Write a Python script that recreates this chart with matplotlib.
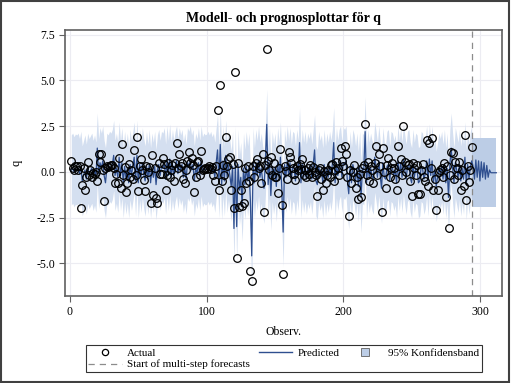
import matplotlib
matplotlib.use('Agg')
import matplotlib.pyplot as plt
import numpy as np
from matplotlib.lines import Line2D
from matplotlib.patches import Rectangle

plt.rcParams['font.family'] = ['Liberation Serif', 'DejaVu Serif']

########################################
# data
actual = [
    0.6, 0.2, 0.1, 0.3, 0.3, 0.1, 0.3, -2.0, -0.7, 0.2,
    -1.0, -0.3, 0.55, -0.2, 0.1, -0.3, -0.05, -0.1, 0.0, -0.5,
    0.95, 0.55, 0.95, 0.1, -1.6, 0.2, 0.3, 0.25, 0.3, 0.35,
    0.35, 0.2, -0.6, -0.1, -0.6, 0.75, -0.9, 1.5, -0.2, 0.25,
    -1.1, -0.6, 0.45, -0.3, 0.1, -0.4, 1.2, -0.2, 1.9, -1.05,
    0.3, 0.7, 0.1, -0.45, -1.05, 0.3, 0.0, 0.25, -1.7, 0.9,
    -1.25, 0.2, -1.45, -1.7, 0.5, -0.1, -0.1, 0.75, 0.45, -1.0,
    -0.2, 0.5, -0.3, 0.1, 0.4, -0.5, 0.5, 1.6, 0.2, 1.0,
    0.3, 0.5, -0.4, -0.6, 0.1, 0.6, 1.1, 0.5, 0.75, 0.4,
    -1.1, -0.3, 0.55, 0.6, -0.2, 1.15, 0.1, 0.15, 0.2, 0.15,
    0.2, 0.3, 0.15, 0.25, -0.2, -0.5, 0.3, 3.4, -1.0, 4.75,
    -0.5, 0.4, -0.2, 1.9, 0.3, 0.7, 0.8, -1.0, 0.45, -2.0,
    5.45, -4.7, 0.5, -1.9, -1.0, -1.85, -1.7, 0.2, -0.6, 0.3,
    -0.5, -5.45, -6.0, 0.3, -0.3, 0.5, 0.7, 0.2, 0.3, -0.6,
    1.0, -2.2, 0.4, 6.75, 0.6, 0.1, 0.8, -0.2, 0.5, -0.3,
    -0.3, -1.15, 0.2, 1.25, -1.8, -5.6, 0.3, 0.05, -0.4, 1.1,
    0.8, 0.5, 0.2, -0.1, -0.45, 0.3, 0.1, 0.45, 0.15, 0.7,
    -0.2, 0.1, -0.3, 0.2, -0.1, 0.35, -0.3, 0.25, 0.0, -0.2,
    -1.3, 0.1, 0.2, -0.4, -1.0, 0.05, -0.6, -0.2, 0.1, -0.3,
    0.4, 0.45, -0.5, 0.1, 0.55, 0.2, -0.2, 1.3, 0.6, 0.3,
    1.4, 0.95, -0.3, -2.4, 0.1, -0.6, 0.0, 0.35, -0.9, -0.3,
    -1.5, -0.1, -1.4, 0.2, 0.35, 2.6, -0.2, 0.55, -0.5, 0.3,
    0.1, -0.6, 0.5, 1.4, -0.2, 1.0, 0.3, -2.2, 1.3, 0.0,
    -0.9, 0.4, 0.75, -0.3, 0.2, 0.5, 0.2, -0.4, -1.0, 1.4,
    0.3, 0.7, -0.2, 2.5, 0.55, 0.0, 0.35, 0.45, -0.5, -1.3,
    0.5, 0.2, -0.2, 0.35, -1.2, -1.2, 0.1, 0.45, -0.3, -0.5,
    1.75, -0.8, 1.6, 0.2, 1.85, -1.0, -0.4, -2.1, -1.0, 0.0,
    0.1, 0.2, -0.3, 0.5, -1.4, 0.3, -3.1, -0.2, 1.1, 1.05,
    -0.4, 0.55, 0.2, -0.2, 0.55, -1.0, 0.1, -0.8, 2.0, -1.55,
    0.3, -0.55, 0.1, 1.35,
]

predicted = [
    0.1, 0.2, 0.0, 0.15, 0.1, 0.2, -0.1, 0.3, -0.5, -0.2,
    0.1, -0.4, 0.2, -0.1, 0.05, 0.2, -0.2, 0.1, -0.3, 1.3,
    -0.1, 0.5, 0.2, 0.6, -0.2, -0.6, 0.2, 0.1, 0.3, 0.2,
    0.4, 0.9, -0.2, 0.2, -0.3, 0.8, -0.2, 0.5, -0.6, 0.3,
    -0.4, 0.2, -0.6, 0.4, -0.2, 0.3, 0.8, -0.5, 0.9, -0.6,
    0.4, -0.3, 0.5, -0.1, -0.5, 0.3, -0.4, 0.4, -0.6, 0.2,
    -0.3, 0.3, -0.7, 0.1, 0.4, -0.2, 0.3, 0.2, 0.5, -0.4,
    0.6, -0.2, 0.7, -0.3, 0.4, -0.2, 0.3, 0.6, -0.1, 0.5,
    0.1, 0.4, -0.3, 0.2, -0.4, 0.5, 0.3, 0.6, 0.1, 0.4,
    -0.5, 0.2, -0.1, 0.5, -0.2, 0.6, 0.0, 0.2, 0.1, 0.15,
    0.3, 0.1, 0.3, 0.0, 0.2, -0.3, 0.5, 1.2, -0.6, 1.5,
    -0.7, 0.6, -0.5, 0.9, -0.3, 0.4, -0.2, -0.8, 0.3, -3.1,
    0.6, -3.0, 0.4, -1.0, -0.3, -1.9, 0.2, -0.7, 0.3, -0.5,
    0.2, -1.5, -4.6, 0.5, -0.6, 0.4, -0.2, 0.6, -0.3, 0.2,
    -0.5, -0.9, 0.6, 2.6, -0.7, 0.5, -1.3, 0.3, -0.4, 0.2,
    -0.8, 0.5, -0.3, 0.8, -0.9, -3.3, 0.4, -0.3, 0.6, -0.2,
    0.5, -0.4, 0.3, 0.2, -0.5, 0.4, -0.2, 1.6, -0.6, 0.4,
    -0.3, 0.3, -0.4, 0.2, -0.1, 0.3, -0.4, 0.4, 1.2, -0.5,
    -0.7, 0.3, -0.2, 0.1, -0.6, 0.4, -0.5, 0.2, -0.3, 0.3,
    -0.2, 0.4, 1.6, -0.6, 0.5, -0.2, 0.4, 0.6, -0.3, 0.5,
    0.4, 0.6, -0.5, -1.2, 0.3, -0.6, 0.4, 0.1, -0.5, 0.2,
    -0.8, 0.3, -1.4, 0.2, 0.1, 2.2, -0.6, 0.4, -0.3, 0.2,
    -0.2, -0.4, 0.8, 0.3, -0.3, 0.6, -0.2, -0.9, 0.5, -0.3,
    -0.4, 0.3, 0.4, -0.5, 0.3, 0.2, -0.2, 0.1, -0.6, 0.6,
    -0.2, 0.5, -0.3, 0.7, 0.1, -0.4, 0.3, 0.4, -0.3, -0.6,
    0.4, -0.3, 0.2, 0.1, -0.6, -0.5, 0.3, 0.2, -0.4, -0.1,
    0.6, -0.5, 0.7, -0.2, 0.6, -0.6, 0.1, -0.8, -0.3, 0.2,
    -0.1, 0.3, -0.4, 0.4, -0.6, 0.2, -1.4, 0.4, 1.3, 0.2,
    -0.6, 0.5, 0.1, -0.3, 0.4, -0.5, 0.2, -0.4, 0.8, -0.7,
    0.4, -0.4, 0.3, 0.6,
    # multi-step forecasts
    0.3, -0.4, 0.65, -0.3, 0.6, -0.5, 0.55, -0.3, 0.5, -0.4,
    0.35, -0.3, 0.1, -0.05, -0.05, -0.05, -0.05, -0.05,
]

band_halfwidth = 1.92          # 95% band around the one-step predictions
fc_upper = [1.85] * 18         # band of the multi-step forecasts
fc_lower = [-1.95] * 18
forecast_start = 294.5

########################################
# figure / axis setup
n_act = len(actual)
obs_act = np.arange(1, n_act + 1)
obs_pred = np.arange(1, len(predicted) + 1)
pred = np.array(predicted)

fig = plt.figure(figsize=(5.11, 3.83), dpi=100)
ax = fig.add_axes([0.127, 0.227, 0.855, 0.695])

band_col = '#d4dff0'
fc_band_col = '#bccde6'
line_col = '#2f4f8f'

########################################
# plots
ax.fill_between(obs_pred[:n_act], pred[:n_act] - band_halfwidth,
                pred[:n_act] + band_halfwidth, color=band_col, lw=0, zorder=1)
ax.fill_between(obs_pred[n_act - 1:], [fc_lower[0]] + fc_lower,
                [fc_upper[0]] + fc_upper, color=fc_band_col, lw=0, zorder=1)
ax.plot(obs_pred, pred, color=line_col, lw=0.9, zorder=3)
ax.plot(obs_act, actual, 'o', mfc='none', mec='black', ms=5.5, mew=0.9, zorder=4)
ax.axvline(forecast_start, color='#8c8c8c', ls=(0, (5, 4)), lw=0.9, zorder=2)

########################################
# axis settings
ax.set_xlim(-3.7, 316)
ax.set_ylim(-6.8, 7.77)
ax.set_xticks([0, 100, 200, 300])
ax.set_yticks([-5.0, -2.5, 0.0, 2.5, 5.0, 7.5])
ax.set_yticklabels(['-5.0', '-2.5', '0.0', '2.5', '5.0', '7.5'])
ax.grid(True, color='#ececf2', lw=0.8, zorder=0)
ax.set_axisbelow(True)
for sp in ax.spines.values():
    sp.set_color('#606060')
    sp.set_linewidth(1.2)
ax.tick_params(direction='out', length=4, width=0.8, color='#606060',
               labelsize=8.5, pad=3)
ax.set_title('Modell- och prognosplottar för q', fontsize=10,
             fontweight='bold', pad=6)
ax.set_xlabel('Observ.', fontsize=8.5, labelpad=6)
ax.set_ylabel('q', fontsize=9, labelpad=10)

handles = [
    Line2D([], [], ls='none', marker='o', mfc='none', mec='black', ms=4.5, mew=0.9),
    Line2D([], [], color='#8c8c8c', ls=(0, (5, 4)), lw=0.9),
    Line2D([], [], color=line_col, lw=1.0),
    Line2D([], [], ls='none', marker='s', mfc=fc_band_col, mec='#606060',
           ms=6, mew=0.6),
]
labels = ['Actual', 'Start of multi-step forecasts', 'Predicted', '95% Konfidensband']
leg = fig.legend(handles, labels, ncol=3, loc='center',
                 bbox_to_anchor=(0.555, 0.063), fontsize=8, frameon=True,
                 fancybox=False, edgecolor='black', handlelength=3,
                 borderpad=0.25, labelspacing=0.15, columnspacing=0.8,
                 handletextpad=0.5)
leg.get_frame().set_linewidth(0.8)

fig.patches.append(Rectangle((0.002, 0.003), 0.995, 0.994, transform=fig.transFigure,
                             fill=False, edgecolor='#404040', lw=1.5))

fig.savefig('out.png', dpi=100)
